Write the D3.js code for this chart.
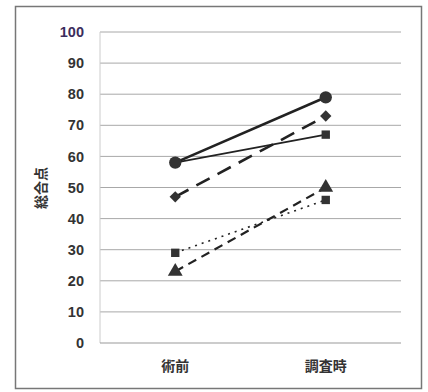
<!DOCTYPE html>
<html><head><meta charset="utf-8">
<script src="https://cdn.jsdelivr.net/npm/d3@7"></script>
<style>body{margin:0;background:#fff;} svg{display:block;}</style>
</head><body>
<script>
const categories = ["術前", "調査時"];
const yTicks = [0,10,20,30,40,50,60,70,80,90,100];
const circleSeries = [58, 79];
const squareSolidSeries = [58, 67];
const diamondSeries = [47, 73];
const squareDottedSeries = [29, 46];
const triangleSeries = [23, 50];

(function(){
const series = [
  {values: squareDottedSeries, symbol: d3.symbolSquare, size: 70, rot: 0, width: 1.6, dash: "2,5"},
  {values: triangleSeries, symbol: d3.symbolTriangle, size: 95, rot: 0, width: 2.2, dash: "9,6"},
  {values: diamondSeries, symbol: d3.symbolSquare, size: 64, rot: 45, width: 2.6, dash: "15,9"},
  {values: squareSolidSeries, symbol: d3.symbolSquare, size: 70, rot: 0, width: 1.6, dash: null},
  {values: circleSeries, symbol: d3.symbolCircle, size: 120, rot: 0, width: 2.6, dash: null}
];

const W = 428, H = 392;
const svg = d3.select("body").append("svg").attr("width", W).attr("height", H);
svg.append("rect").attr("x", 15.5).attr("y", 6.5).attr("width", 406).attr("height", 382)
  .attr("fill", "#fff").attr("stroke", "#777").attr("stroke-width", 1.5);

const pL = 100, pR = 401, pT = 32, pB = 343;
const x = d3.scaleBand().domain(categories).range([pL, pR]);
const y = d3.scaleLinear().domain([0, 100]).range([pB, pT]);

svg.append("g").selectAll("line").data(yTicks.filter(d => d > 0)).join("line")
  .attr("x1", pL).attr("x2", pR).attr("y1", d => y(d)).attr("y2", d => y(d))
  .attr("stroke", "#a8a8a8").attr("stroke-width", 1);
svg.append("line").attr("x1", pL).attr("x2", pL).attr("y1", pT).attr("y2", pB)
  .attr("stroke", "#ccc").attr("stroke-width", 1);
svg.append("line").attr("x1", pL).attr("x2", pR).attr("y1", pB).attr("y2", pB)
  .attr("stroke", "#999").attr("stroke-width", 1.2);

const yAxis = d3.axisLeft(y).tickValues(yTicks).tickSize(0).tickPadding(0);
const ya = svg.append("g").attr("transform", `translate(${84},0)`).call(yAxis);
ya.select(".domain").remove();
ya.selectAll("text").attr("font-family", "Arial, 'Liberation Sans', sans-serif")
  .attr("font-size", 14.5).attr("font-weight", "bold").attr("fill", d => d === 100 ? "#3b2d5c" : "#333");

const xAxis = d3.axisBottom(x).tickSize(0).tickPadding(0);
const xa = svg.append("g").attr("transform", `translate(0,${361})`).call(xAxis);
xa.select(".domain").remove();
xa.selectAll("text").attr("font-family", "'Noto Sans CJK JP', sans-serif")
  .attr("font-size", 14).attr("font-weight", "bold").attr("fill", "#333");

svg.append("text").attr("transform", "translate(46,188) rotate(-90)")
  .attr("text-anchor", "middle").attr("font-family", "'Noto Sans CJK JP', sans-serif")
  .attr("font-size", 14).attr("font-weight", "bold").attr("fill", "#333").text("総合点");

const cx = c => x(c) + x.bandwidth() / 2;
const line = d3.line().x((d, i) => cx(categories[i])).y(d => y(d));

series.forEach(s => {
  svg.append("path").datum(s.values).attr("d", line).attr("fill", "none")
    .attr("stroke", "#222").attr("stroke-width", s.width)
    .attr("stroke-dasharray", s.dash);
  svg.append("g").selectAll("path").data(s.values).join("path")
    .attr("transform", (d, i) => `translate(${cx(categories[i])},${y(d)}) rotate(${s.rot})`)
    .attr("d", d3.symbol().type(s.symbol).size(s.size)).attr("fill", "#333");
});
})();
</script>
</body></html>
